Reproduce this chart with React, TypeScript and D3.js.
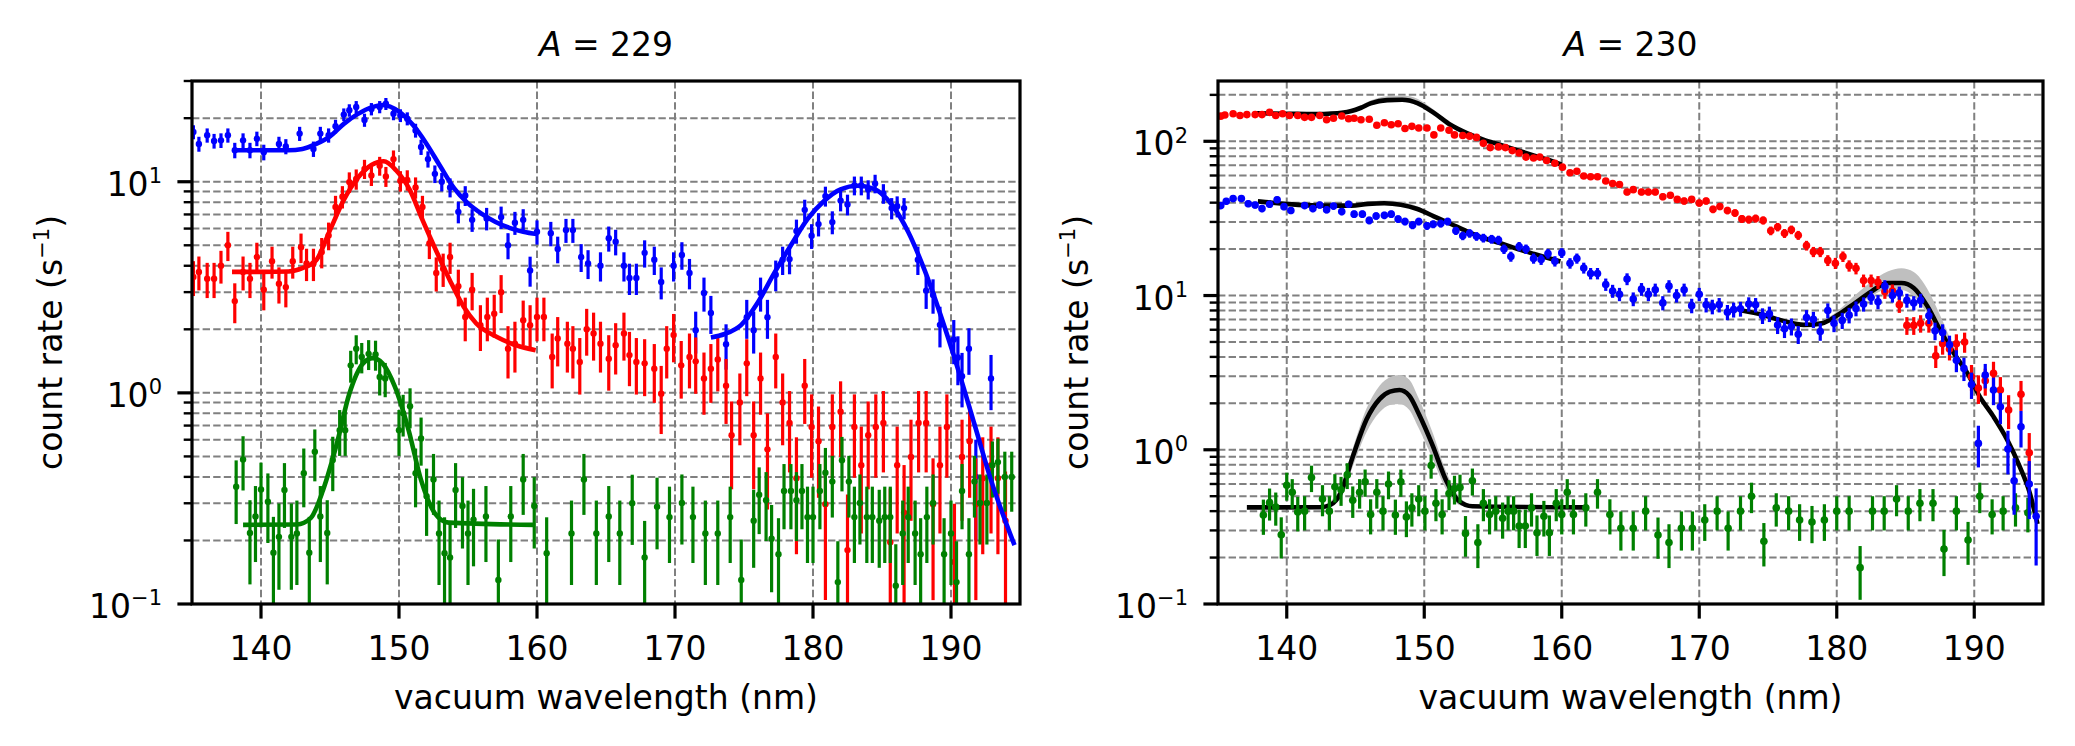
import React from 'react';
import * as d3 from 'd3';

type Pt = [number, number];
type BandPt = [number, number, number];

// ---------- A = 229 : count rates (nm, s^-1) ----------
const blue229: Pt[] = [
  [135.1, 17.2], [135.5, 15.1], [136.1, 16.6], [136.6, 15.6], [137.1, 15.7], [137.6, 16.6], [138.1, 14.1],
  [138.7, 15.7], [139.2, 14.1], [139.7, 16.0], [140.2, 13.8], [141.3, 15.1], [141.8, 14.7], [142.8, 16.9],
  [143.8, 14.3], [144.3, 16.9], [144.9, 16.6], [145.4, 18.3], [146.0, 20.8], [146.4, 21.8], [146.9, 22.6],
  [147.5, 19.6], [148.0, 22.1], [148.6, 22.6], [149.05, 23.4], [149.6, 21.0], [150.1, 20.6], [150.6, 19.9],
  [151.2, 17.5], [151.6, 14.6], [152.1, 12.8], [152.6, 10.9], [153.1, 10.0], [153.7, 9.4], [154.3, 7.2],
  [154.8, 8.6], [155.3, 6.6], [156.35, 6.7], [157.4, 6.8], [157.9, 5.0], [158.4, 6.4], [159.0, 6.6],
  [159.5, 3.8], [160.0, 5.8], [161.0, 5.7], [161.5, 4.8], [162.1, 5.9], [162.6, 5.9], [163.2, 4.4],
  [163.7, 4.1], [164.6, 4.0], [165.2, 5.4], [165.7, 5.2], [166.3, 4.0], [166.7, 3.5], [167.2, 3.5],
  [167.8, 4.6], [168.5, 4.27], [169.0, 3.35], [169.9, 4.0], [170.5, 4.5], [171.05, 3.7], [171.5, 1.98],
  [172.1, 2.97], [172.6, 2.39], [173.7, 1.7], [175.2, 2.28], [175.7, 1.98], [176.2, 2.97], [176.7, 2.28],
  [177.3, 3.63], [177.8, 4.27], [178.3, 4.3], [178.8, 5.85], [179.4, 7.36], [179.9, 5.55], [180.4, 6.3],
  [180.9, 8.55], [181.4, 6.44], [182.0, 8.14], [182.5, 7.8], [183.0, 9.6], [183.5, 9.6], [184.0, 9.2],
  [184.5, 9.8], [185.1, 8.8], [185.7, 7.5], [186.1, 7.65], [186.6, 7.5], [187.6, 4.27], [188.2, 3.05],
  [188.7, 2.91], [189.2, 2.1], [190.2, 1.79], [190.5, 1.47], [190.8, 1.2], [191.3, 1.62], [191.8, 0.4],
  [192.9, 1.17],
];

const red229: Pt[] = [
  [135.1, 3.54], [135.5, 3.74], [136.1, 3.47], [136.6, 3.47], [137.1, 4.0], [137.6, 5.0], [138.1, 2.72],
  [138.7, 3.74], [139.2, 3.47], [139.7, 4.4], [140.2, 3.08], [140.8, 4.2], [141.3, 3.29], [141.8, 3.17],
  [142.3, 4.2], [142.9, 4.9], [143.3, 4.1], [143.8, 4.1], [144.4, 4.65], [144.9, 5.57], [145.4, 7.6],
  [145.9, 8.5], [146.4, 9.96], [146.9, 10.3], [147.5, 11.5], [148.0, 10.7], [148.6, 11.9], [149.05, 10.6],
  [149.6, 12.8], [150.1, 10.1], [150.6, 10.2], [151.2, 9.4], [151.7, 7.6], [152.2, 5.1], [152.7, 3.7],
  [153.2, 3.87], [153.7, 4.4], [154.3, 3.2], [154.8, 2.29], [155.3, 3.08], [155.9, 2.09], [156.4, 2.29],
  [156.9, 2.37], [157.4, 3.0], [157.9, 1.62], [158.4, 1.71], [159.0, 2.21], [159.5, 2.09], [160.0, 2.29],
  [160.5, 2.29], [161.1, 1.48], [161.5, 1.81], [162.2, 1.71], [162.6, 1.62], [163.1, 1.4], [163.6, 2.0],
  [164.1, 1.91], [164.6, 1.71], [165.2, 1.45], [165.7, 1.68], [166.3, 1.91], [166.7, 1.51], [167.2, 1.4],
  [167.8, 1.38], [168.5, 1.3], [169.0, 0.99], [169.4, 1.62], [169.9, 1.88], [170.45, 1.35], [171.05, 1.48],
  [171.5, 1.41], [172.1, 1.17], [172.6, 1.3], [173.1, 1.44], [173.7, 1.08], [174.1, 0.63], [174.7, 0.9],
  [175.2, 1.38], [175.7, 0.63], [176.2, 1.17], [176.7, 0.54], [177.3, 1.48], [177.8, 0.9], [178.3, 0.72],
  [178.8, 0.394], [179.4, 1.08], [179.9, 0.69], [180.4, 0.59], [180.9, 0.297], [181.4, 0.69], [182.0, 0.815],
  [182.5, 0.18], [183.0, 0.69], [183.5, 0.454], [184.0, 0.63], [184.55, 0.69], [185.1, 0.72], [185.6, 0.196],
  [186.1, 0.454], [186.6, 0.271], [187.1, 0.497], [187.65, 0.72], [188.2, 0.72], [188.7, 0.297], [189.2, 0.454],
  [189.7, 0.69], [190.25, 0.158], [190.8, 0.497], [191.35, 0.59], [191.8, 0.297], [192.3, 0.394], [192.9, 0.454],
  [193.4, 0.394], [193.95, 0.248],
];

const green229: Pt[] = [
  [138.2, 0.359], [138.7, 0.484], [139.2, 0.217], [139.6, 0.26], [140.0, 0.349], [140.5, 0.305], [140.9, 0.175],
  [141.3, 0.208], [141.7, 0.347], [142.2, 0.208], [142.6, 0.216], [143.1, 0.416], [143.5, 0.175], [143.9, 0.526],
  [144.3, 0.26], [144.8, 0.217], [145.2, 0.481], [145.7, 0.666], [146.1, 0.666], [146.5, 1.35], [146.9, 1.62],
  [147.3, 1.48], [147.8, 1.53], [148.3, 1.52], [148.6, 1.19], [149.0, 1.17], [150.0, 0.666], [150.3, 0.8],
  [150.8, 0.865], [151.2, 0.416], [151.6, 0.608], [152.0, 0.324], [152.5, 0.389], [152.9, 0.216], [153.3, 0.174],
  [153.7, 0.166], [154.1, 0.347], [154.6, 0.291], [155.0, 0.216], [155.4, 0.251], [156.3, 0.26], [157.2, 0.13],
  [158.1, 0.26], [159.0, 0.389], [159.8, 0.291], [160.7, 0.174], [162.5, 0.216], [163.4, 0.389], [164.3, 0.216],
  [165.2, 0.26], [166.0, 0.216], [166.9, 0.3], [167.8, 0.166], [168.7, 0.289], [169.6, 0.258], [170.5, 0.301],
  [171.3, 0.258], [172.2, 0.216], [173.1, 0.216], [174.0, 0.258], [174.8, 0.13], [175.7, 0.248], [176.1, 0.329],
  [176.6, 0.31], [177.0, 0.204], [177.5, 0.172], [177.9, 0.343], [178.4, 0.343], [178.8, 0.31], [179.2, 0.343],
  [179.6, 0.258], [180.0, 0.258], [180.5, 0.343], [180.9, 0.419], [181.4, 0.38], [181.8, 0.127], [182.1, 0.48],
  [182.6, 0.38], [183.0, 0.258], [183.4, 0.301], [183.9, 0.258], [184.3, 0.258], [184.8, 0.248], [185.2, 0.258],
  [185.6, 0.258], [186.0, 0.122], [186.5, 0.216], [186.9, 0.258], [187.4, 0.216], [187.8, 0.172], [188.25, 0.258],
  [188.7, 0.301], [189.5, 0.172], [190.0, 0.216], [190.4, 0.127], [190.8, 0.343], [191.3, 0.172], [191.7, 0.38],
  [192.1, 0.301], [192.6, 0.301], [193.0, 0.454], [193.4, 0.47], [193.9, 0.4], [194.4, 0.4],
];

// fitted curves, A = 229
const blueFit229a: Pt[] = [
  [138.2, 14.1], [140, 14.1], [142, 14.1], [143, 14.3], [144, 15.1], [145, 16.4], [146, 18.8], [147, 20.9],
  [148, 22.5], [148.8, 23.1], [150, 21.5], [151, 18.6], [152, 15.1], [153, 11.8], [154, 9.3], [155, 7.9],
  [156, 7.05], [157, 6.45], [158, 6.05], [159, 5.8], [160, 5.65],
];
const blueFit229b: Pt[] = [
  [172.6, 1.83], [173.6, 1.9], [174.8, 2.1], [176.0, 2.68], [177.2, 3.7], [178.4, 5.0], [179.6, 6.65],
  [180.8, 8.1], [182.0, 9.2], [183.25, 9.57], [184.5, 9.2], [185.7, 7.8], [186.9, 5.78], [188.1, 3.79],
  [189.3, 2.28], [190.5, 1.3], [191.7, 0.71], [192.9, 0.386], [194.6, 0.19],
];
const redFit229: Pt[] = [
  [137.9, 3.74], [140, 3.74], [142, 3.76], [143, 3.9], [144, 4.25], [145, 5.9], [146, 8.2], [147, 10.4],
  [148, 12.0], [148.9, 12.5], [149.8, 11.3], [150.8, 9.1], [151.7, 6.6], [152.7, 4.7], [153.7, 3.4],
  [154.7, 2.55], [155.6, 2.13], [157.1, 1.84], [158.5, 1.68], [159.9, 1.59],
];
const greenFit229: Pt[] = [
  [138.7, 0.237], [142.6, 0.238], [143.6, 0.255], [144.5, 0.347], [145.5, 0.576], [146.4, 0.99], [147.4, 1.38],
  [148.1, 1.46], [148.8, 1.38], [149.7, 1.07], [150.7, 0.665], [151.6, 0.386], [152.6, 0.269], [153.6, 0.243],
  [159.8, 0.237],
];

// ---------- A = 230 : count rates (nm, s^-1) ----------
const red230: Pt[] = [
  [135.2, 145.6], [135.5, 148], [136.1, 151], [136.6, 147], [137.1, 149], [137.7, 149], [138.2, 149],
  [138.75, 154], [139.2, 147], [139.7, 151], [140.2, 147], [140.8, 147], [141.3, 143], [141.8, 143],
  [142.4, 147], [142.9, 138], [143.4, 141], [144.0, 146], [144.5, 140], [144.9, 141], [145.4, 138],
  [146.0, 139], [146.55, 127], [147.1, 132], [147.6, 128], [148.1, 130], [148.6, 121], [149.1, 125],
  [149.6, 122], [150.2, 122], [150.7, 110], [151.2, 122], [151.8, 118], [152.2, 110], [152.8, 109],
  [153.3, 108], [153.8, 106], [154.3, 97], [154.8, 91], [155.4, 92], [155.9, 91], [156.4, 87], [156.9, 84],
  [157.4, 79], [157.95, 78], [158.4, 79], [158.9, 75], [159.5, 72], [160.05, 68], [160.6, 62.5], [161.1, 64],
  [161.6, 59.6], [162.1, 58.9], [162.6, 58.9], [163.2, 55.3], [163.7, 53.3], [164.2, 52.5], [164.75, 46.9],
  [165.2, 48.6], [165.8, 46.9], [166.3, 46.9], [166.8, 46.9], [167.35, 43.7], [167.9, 44.7], [168.4, 42],
  [168.9, 41], [169.45, 42], [170.0, 39.8], [170.5, 41], [171.0, 36.2], [171.5, 37.8], [172.05, 35.6],
  [172.6, 34.3], [173.1, 31.4], [173.6, 31.1], [174.1, 31.6], [174.65, 30.7], [175.2, 26.3], [175.7, 27.8],
  [176.2, 25.3], [176.7, 26.7], [177.2, 24.6], [177.8, 21.1], [178.3, 19.2], [178.8, 19.2], [179.35, 16.9],
  [179.9, 16.2], [180.45, 17.9], [180.9, 15.6], [181.4, 15.0], [181.95, 12.5], [182.5, 12.5], [183.0, 12.2],
  [183.5, 10.6], [184.05, 10.7], [184.55, 8.7], [185.1, 6.4], [185.6, 6.4], [186.1, 6.6], [186.7, 6.6],
  [187.2, 4.06], [187.7, 4.87], [188.2, 4.5], [188.7, 4.87], [189.3, 5.0], [189.8, 2.97], [190.3, 2.51],
  [190.8, 2.8], [191.4, 3.13], [191.9, 2.44], [192.5, 1.81], [193.4, 2.29], [194.0, 0.957],
];

const blue230: Pt[] = [
  [135.2, 38.3], [135.6, 40.9], [136.1, 42.5], [136.7, 42.5], [137.2, 39.4], [137.7, 38.6], [138.2, 36.6],
  [138.75, 39.1], [139.3, 41.8], [139.8, 37.7], [140.3, 35.6], [141.3, 38.3], [141.9, 36.6], [142.4, 38.6],
  [142.9, 36.0], [143.4, 38.0], [144.0, 35.0], [144.5, 39.1], [144.9, 33.7], [145.5, 33.7], [146.0, 30.7],
  [146.5, 32.8], [147.1, 33.1], [147.6, 33.7], [148.1, 31.3], [148.6, 30.2], [149.15, 28.6], [149.6, 30.2],
  [150.2, 28.3], [150.65, 29.0], [151.2, 29.3], [151.7, 30.2], [152.3, 26.3], [152.8, 24.4], [153.3, 25.3],
  [153.8, 24.2], [154.3, 23.6], [154.9, 23.2], [155.4, 22.9], [155.8, 20.0], [156.3, 17.9], [156.9, 20.8],
  [157.4, 20.0], [157.95, 17.4], [158.5, 17.1], [159.0, 18.7], [159.5, 16.7], [160.0, 18.9], [160.6, 16.2],
  [161.1, 17.4], [161.6, 15.1], [162.1, 13.9], [162.6, 13.9], [163.2, 11.8], [163.7, 10.7], [164.2, 10.2],
  [164.75, 12.8], [165.2, 9.5], [165.8, 11.0], [166.3, 10.2], [166.8, 10.9], [167.35, 8.96], [167.8, 11.5],
  [168.35, 10.0], [168.9, 10.9], [169.45, 8.6], [170.0, 10.2], [170.5, 8.7], [170.95, 8.47], [171.45, 8.7],
  [172.05, 7.8], [172.5, 8.1], [173.0, 8.2], [173.6, 8.8], [174.1, 8.7], [174.6, 7.4], [175.1, 7.6],
  [175.7, 6.43], [176.2, 6.08], [176.7, 6.3], [177.2, 5.6], [177.8, 7.2], [178.3, 7.0], [178.8, 5.85],
  [179.35, 8.0], [179.8, 6.6], [180.4, 6.9], [180.9, 7.46], [181.4, 8.24], [181.95, 8.8], [182.5, 9.7],
  [183.0, 9.1], [183.5, 11.5], [184.05, 10.0], [184.55, 10.4], [185.1, 9.3], [185.6, 8.96], [186.1, 9.3],
  [186.7, 7.4], [187.15, 5.9], [187.7, 5.75], [188.2, 4.8], [188.7, 3.8], [189.25, 3.37], [189.8, 2.65],
  [190.3, 1.1], [190.8, 3.05], [191.4, 2.44], [191.9, 1.9], [192.45, 1.01], [192.9, 0.63], [193.4, 1.41],
  [194.0, 0.6], [194.5, 0.37],
];

const green230: Pt[] = [
  [138.3, 0.378], [138.75, 0.454], [139.2, 0.425], [139.6, 0.281], [140.0, 0.589], [140.4, 0.53], [140.8, 0.395],
  [141.3, 0.4], [141.8, 0.66], [142.6, 0.48], [143.1, 0.4], [143.5, 0.575], [143.95, 0.55], [144.4, 0.687],
  [144.8, 0.47], [145.3, 0.53], [145.7, 0.62], [146.1, 0.38], [146.55, 0.53], [147.0, 0.4], [147.4, 0.6],
  [147.9, 0.378], [148.3, 0.62], [148.7, 0.367], [149.1, 0.42], [149.6, 0.48], [150.05, 0.4], [150.5, 0.79],
  [150.85, 0.45], [151.3, 0.38], [151.8, 0.52], [152.2, 0.56], [152.6, 0.57], [153.0, 0.287], [153.5, 0.63],
  [153.9, 0.25], [154.3, 0.45], [154.75, 0.38], [155.2, 0.4], [155.7, 0.36], [156.1, 0.4], [156.5, 0.4],
  [156.9, 0.32], [157.35, 0.32], [157.8, 0.42], [158.2, 0.29], [158.7, 0.37], [159.1, 0.29], [159.6, 0.45],
  [160.0, 0.38], [160.4, 0.53], [160.85, 0.38], [161.75, 0.42], [162.6, 0.53], [163.5, 0.38], [164.3, 0.31],
  [165.2, 0.31], [166.1, 0.4], [167.0, 0.28], [167.8, 0.25], [168.7, 0.31], [169.5, 0.31], [170.4, 0.35],
  [171.3, 0.4], [172.1, 0.31], [173.0, 0.4], [173.8, 0.5], [174.7, 0.255], [175.6, 0.42], [176.5, 0.4],
  [177.3, 0.35], [178.2, 0.34], [179.1, 0.35], [180.0, 0.4], [180.9, 0.4], [181.7, 0.172], [182.6, 0.4],
  [183.45, 0.4], [184.35, 0.48], [185.2, 0.4], [186.05, 0.45], [187.0, 0.45], [187.8, 0.227], [188.7, 0.4],
  [189.55, 0.26], [190.4, 0.5], [191.3, 0.38], [192.1, 0.4], [193.0, 0.42], [193.9, 0.39],
];

// fitted curves, A = 230 (all black)
const redFit230: Pt[] = [
  [137.8, 152], [140, 151], [142, 150], [143, 151], [144, 153], [144.7, 157], [145.4, 165], [146.1, 176],
  [147.3, 185], [148.4, 186], [149.5, 177], [150.7, 153], [151.9, 128], [153.1, 113], [154.3, 102.6],
  [155.5, 95], [156.75, 87.5], [158.0, 80.8], [159.2, 75], [160.0, 70.6],
];
const blueFit230a: Pt[] = [
  [137.9, 40.8], [139.8, 39.4], [142.25, 38.3], [144.7, 38.3], [145.9, 39.3], [147.1, 39.7], [148.3, 38.8],
  [149.5, 36.4], [150.7, 32.6], [151.9, 29.2], [153.1, 26.1], [154.3, 23.6], [155.5, 21.9], [156.75, 20.1],
  [158.0, 18.6], [159.2, 17.3], [159.9, 16.6],
];
const blueFit230b: Pt[] = [
  [173.1, 8.0], [174.6, 7.5], [176.1, 6.85], [177.6, 6.45], [178.9, 6.6], [180.1, 7.5], [181.3, 8.9],
  [182.5, 10.6], [183.7, 12.05], [184.7, 12.05], [185.6, 11.2], [186.6, 8.5], [187.5, 6.0], [188.5, 4.24],
  [189.5, 3.14], [190.4, 2.21], [191.4, 1.64], [192.4, 1.16], [193.3, 0.78], [194.05, 0.52], [194.6, 0.33],
];
const greenFit230: Pt[] = [
  [137.1, 0.423], [142.4, 0.424], [143.2, 0.44], [143.9, 0.52], [144.8, 0.9], [145.8, 1.57], [146.75, 2.13],
  [147.5, 2.38], [148.2, 2.44], [148.9, 2.25], [149.6, 1.71], [150.6, 1.07], [151.6, 0.63], [152.5, 0.467],
  [153.5, 0.43], [161.6, 0.423],
];

// confidence bands of the A = 230 fits: [nm, low, high]
const redBand230: BandPt[] = [
  [143.5, 151, 152], [144.7, 155, 160], [146.1, 171, 184], [147.3, 179, 196], [148.4, 180, 198],
  [149.5, 171, 189], [150.7, 149, 160], [151.9, 126, 131], [153.0, 113, 114],
];
const blueBand230a: BandPt[] = [
  [144.5, 38.2, 38.6], [145.9, 38.6, 40.5], [147.1, 38.8, 41.3], [148.3, 37.8, 40.5], [149.5, 35.6, 37.8],
  [150.7, 32.0, 33.4], [152.0, 29.0, 29.4],
];
const blueBand230b: BandPt[] = [
  [178.0, 6.4, 6.6], [179.0, 6.5, 6.9], [180.1, 7.2, 8.0], [181.3, 8.4, 10.0], [182.5, 9.9, 12.3],
  [183.7, 11.0, 14.3], [184.7, 10.9, 15.0], [185.6, 9.9, 14.2], [186.6, 7.6, 11.0], [187.5, 5.6, 7.5],
  [188.5, 4.1, 4.7], [189.5, 3.1, 3.2],
];
const greenBand230: BandPt[] = [
  [143.0, 0.43, 0.45], [143.9, 0.48, 0.57], [144.8, 0.78, 1.02], [145.8, 1.3, 1.85], [146.75, 1.75, 2.6],
  [147.5, 1.95, 2.95], [148.2, 1.98, 3.05], [148.9, 1.82, 2.85], [149.6, 1.38, 2.15], [150.6, 0.88, 1.3],
  [151.6, 0.55, 0.72], [152.5, 0.44, 0.5], [153.5, 0.42, 0.44],
];

const xTicks = [140, 150, 160, 170, 180, 190];
const xDomain: [number, number] = [135, 195];

const FONT = "'DejaVu Sans', sans-serif";
const FS = 33;
const SUP = 21;
const TOP = 81;
const BOTTOM = 604;
const GRID = '#808080';

interface SeriesSpec { pts: Pt[]; color: string; time: number; }
interface FitSpec { pts: Pt[]; color: string; }

interface PanelProps {
  id: string;
  x0: number;
  x1: number;
  yMax: number;
  mass: number;
  series: SeriesSpec[];
  fits: FitSpec[];
  bands: BandPt[][];
  radius: number;
  fitsOnTop: boolean;
}

const Panel: React.FC<PanelProps> = ({ id, x0, x1, yMax, mass, series, fits, bands, radius, fitsOnTop }) => {
  const x = d3.scaleLinear().domain(xDomain).range([x0, x1]);
  const y = d3.scaleLog().domain([0.1, yMax]).range([BOTTOM, TOP]);

  const exps = d3.range(-1, Math.floor(Math.log10(yMax)) + 1);
  const majors = exps.map(e => Math.pow(10, e));
  const minors = exps
    .flatMap(e => d3.range(2, 10).map(m => m * Math.pow(10, e)))
    .filter(v => v <= yMax);

  const line = d3.line<Pt>().x(d => x(d[0])).y(d => y(d[1])).curve(d3.curveMonotoneX);
  const area = d3.area<BandPt>()
    .x(d => x(d[0])).y0(d => y(d[1])).y1(d => y(d[2]))
    .curve(d3.curveMonotoneX);

  const fitPaths = fits.map((f, i) => (
    <path key={`f${i}`} d={line(f.pts) || ''} fill="none" stroke={f.color} strokeWidth={4.6} />
  ));

  // Poisson error bars from the counting time of each series
  const dataMarks = series.map((s, i) => (
    <g key={`s${i}`}>
      {s.pts.map((p, j) => {
        const sig = Math.sqrt(p[1] / s.time);
        return (
          <line key={`e${j}`} x1={x(p[0])} x2={x(p[0])}
            y1={y(Math.max(p[1] - sig, 0.01))} y2={y(p[1] + sig)}
            stroke={s.color} strokeWidth={3.2} />
        );
      })}
      {s.pts.map((p, j) => (
        <circle key={`c${j}`} cx={x(p[0])} cy={y(p[1])} r={radius} fill={s.color} />
      ))}
    </g>
  ));

  const cx = (x0 + x1) / 2;
  const cy = (TOP + BOTTOM) / 2;

  return (
    <g>
      <defs>
        <clipPath id={id}>
          <rect x={x0} y={TOP} width={x1 - x0} height={BOTTOM - TOP} />
        </clipPath>
      </defs>

      {/* grid */}
      <g stroke={GRID} strokeWidth={2} strokeDasharray="7.4 3.2">
        {xTicks.map(t => <line key={`gx${t}`} x1={x(t)} x2={x(t)} y1={TOP} y2={BOTTOM} />)}
        {[...majors, ...minors].filter(v => v > 0.1).map(v => (
          <line key={`gy${v}`} x1={x0} x2={x1} y1={y(v)} y2={y(v)} />
        ))}
      </g>

      <g clipPath={`url(#${id})`}>
        {bands.map((b, i) => <path key={`b${i}`} d={area(b) || ''} fill="#bfbfbf" />)}
        {!fitsOnTop && fitPaths}
        {dataMarks}
        {fitsOnTop && fitPaths}
      </g>

      {/* axes frame and ticks */}
      <rect x={x0} y={TOP} width={x1 - x0} height={BOTTOM - TOP} fill="none" stroke="#000" strokeWidth={3.2} />
      {xTicks.map(t => (
        <g key={`xt${t}`}>
          <line x1={x(t)} x2={x(t)} y1={BOTTOM} y2={BOTTOM + 14.6} stroke="#000" strokeWidth={3.2} />
          <text x={x(t)} y={660} textAnchor="middle" fontSize={FS}>{t}</text>
        </g>
      ))}
      {minors.map(v => (
        <line key={`my${v}`} x1={x0 - 8.3} x2={x0} y1={y(v)} y2={y(v)} stroke="#000" strokeWidth={2.4} />
      ))}
      {majors.map((v, i) => (
        <g key={`yt${v}`}>
          <line x1={x0 - 14.6} x2={x0} y1={y(v)} y2={y(v)} stroke="#000" strokeWidth={3.2} />
          <text x={x0 - 30} y={y(v) + 14} textAnchor="end" fontSize={FS}>
            10<tspan dy={-12.7} fontSize={SUP}>{exps[i] < 0 ? `\u2212${-exps[i]}` : `${exps[i]}`}</tspan>
          </text>
        </g>
      ))}

      <text x={cx} y={56} textAnchor="middle" fontSize={FS}>
        <tspan fontStyle="italic">A</tspan> = {mass}
      </text>
      <text x={cx} y={709} textAnchor="middle" fontSize={FS}>vacuum wavelength (nm)</text>
      <text transform={`translate(${x0 - 130},${cy}) rotate(-90)`} textAnchor="middle" fontSize={FS}>
        count rate (s<tspan dy={-12.7} fontSize={SUP}>{'\u22121'}</tspan><tspan dy={12.7} fontSize={FS}>)</tspan>
      </text>
    </g>
  );
};

const App: React.FC = () => (
  <div style={{ position: 'absolute', left: 0, top: 0 }}>
    <svg width={2075} height={746} style={{ display: 'block', background: '#fff' }} fontFamily={FONT}>
      <Panel
        id="clip229" x0={192} x1={1020} yMax={30} mass={229} radius={3.2} fitsOnTop
        series={[
          { pts: blue229, color: '#0000ff', time: 10 },
          { pts: red229, color: '#ff0000', time: 8 },
          { pts: green229, color: '#008000', time: 25 },
        ]}
        fits={[
          { pts: blueFit229a, color: '#0000ff' },
          { pts: blueFit229b, color: '#0000ff' },
          { pts: redFit229, color: '#ff0000' },
          { pts: greenFit229, color: '#008000' },
        ]}
        bands={[]}
      />
      <Panel
        id="clip230" x0={1218} x1={2043} yMax={246} mass={230} radius={3.8} fitsOnTop={false}
        series={[
          { pts: red230, color: '#ff0000', time: 9 },
          { pts: green230, color: '#008000', time: 40 },
          { pts: blue230, color: '#0000ff', time: 10 },
        ]}
        fits={[
          { pts: redFit230, color: '#000' },
          { pts: blueFit230a, color: '#000' },
          { pts: blueFit230b, color: '#000' },
          { pts: greenFit230, color: '#000' },
        ]}
        bands={[redBand230, blueBand230a, blueBand230b, greenBand230]}
      />
    </svg>
  </div>
);

export default App;
